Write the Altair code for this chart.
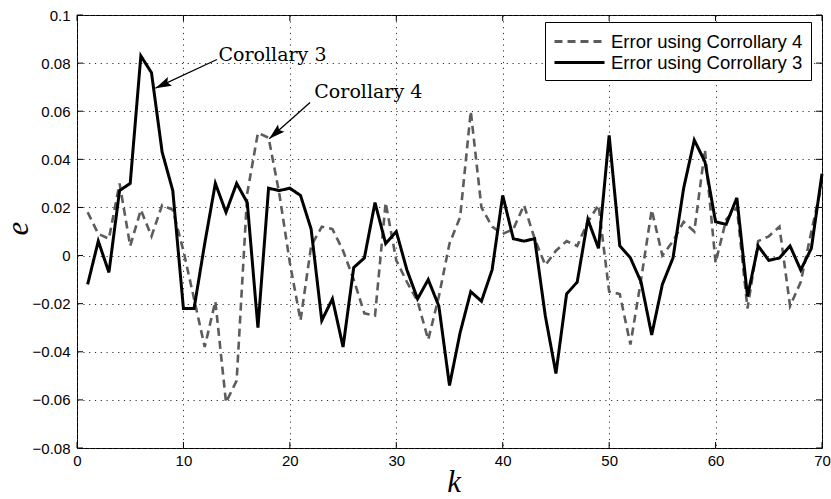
import math
import altair as alt
import pandas as pd

# ---- data -------------------------------------------------------------
k = list(range(1, 71))

err_cor4 = [0.018, 0.009, 0.007, 0.030, 0.004, 0.019, 0.008, 0.021, 0.019, 0.002,
            -0.018, -0.038, -0.019, -0.061, -0.052, 0.026, 0.051, 0.049, 0.026, -0.003,
            -0.027, 0.004, 0.012, 0.011, 0.002, -0.010, -0.024, -0.025, 0.022, -0.002,
            -0.011, -0.019, -0.035, -0.017, 0.005, 0.016, 0.060, 0.020, 0.012, 0.009,
            0.011, 0.021, 0.007, -0.004, 0.002, 0.006, 0.004, 0.014, 0.021, -0.015,
            -0.016, -0.037, -0.010, 0.019, 0.000, 0.006, 0.014, 0.010, 0.044, -0.003,
            0.015, 0.020, -0.022, 0.006, 0.008, 0.012, -0.021, -0.011, 0.010, 0.030]

err_cor3 = [-0.012, 0.006, -0.007, 0.027, 0.030, 0.083, 0.076, 0.043, 0.027, -0.022,
            -0.022, 0.005, 0.030, 0.018, 0.030, 0.022, -0.030, 0.028, 0.027, 0.028,
            0.025, 0.011, -0.027, -0.018, -0.038, -0.005, -0.001, 0.022, 0.005, 0.010,
            -0.006, -0.018, -0.010, -0.021, -0.054, -0.032, -0.015, -0.019, -0.006, 0.025,
            0.007, 0.006, 0.007, -0.025, -0.049, -0.016, -0.011, 0.015, 0.003, 0.050,
            0.004, -0.001, -0.011, -0.033, -0.012, -0.001, 0.028, 0.048, 0.039, 0.014,
            0.013, 0.024, -0.017, 0.004, -0.002, -0.001, 0.004, -0.006, 0.003, 0.034]

series_names = ["Error using Corrollary 4", "Error using Corrollary 3"]

x_ticks = [0, 10, 20, 30, 40, 50, 60, 70]
y_ticks = [-0.08, -0.06, -0.04, -0.02, 0, 0.02, 0.04, 0.06, 0.08, 0.1]

anno_labels = ["Corollary 3", "Corollary 4"]
anno_k = [13.3, 22.3]
anno_e = [0.081, 0.0655]

# arrow start (near the label) and tip (on the curve)
arrow_k0 = [13.15, 21.9]
arrow_e0 = [0.0815, 0.0636]
arrow_k1 = [7.37, 18.06]
arrow_e1 = [0.0696, 0.0486]

# ---- layout -----------------------------------------------------------
W, H = 745, 433
X_DOM = [0, 70]
Y_DOM = [-0.08, 0.1]

df = pd.DataFrame({
    "k": k + k,
    "e": err_cor4 + err_cor3,
    "series": [series_names[0]] * len(k) + [series_names[1]] * len(k),
})

px_per_k = W / (X_DOM[1] - X_DOM[0])
px_per_e = H / (Y_DOM[1] - Y_DOM[0])
angles = []
for a0, b0, a1, b1 in zip(arrow_k0, arrow_e0, arrow_k1, arrow_e1):
    dx = (a1 - a0) * px_per_k
    dy = -(b1 - b0) * px_per_e
    angles.append(math.degrees(math.atan2(dx, -dy)) % 360)

arrows = pd.DataFrame({"k": arrow_k0, "e": arrow_e0, "k2": arrow_k1,
                       "e2": arrow_e1, "angle": angles})
anno = pd.DataFrame({"label": anno_labels, "k": anno_k, "e": anno_e})
xt = pd.DataFrame({"k": x_ticks})
yt = pd.DataFrame({"e": y_ticks})

xs = alt.Scale(domain=X_DOM, nice=False, zero=False)
ys = alt.Scale(domain=Y_DOM, nice=False, zero=False)

grid_common = dict(grid=True, gridDash=[1.2, 4.6], gridColor="#333333", gridWidth=1,
                   ticks=False, tickSize=0, domain=False,
                   labelFont="Liberation Sans", labelFontSize=15, labelColor="black",
                   labelOverlap=False, labelFlush=False,
                   titleFont="Liberation Serif", titleFontStyle="italic",
                   titleFontWeight="normal", titleFontSize=31, titleColor="black")

x_axis = alt.Axis(values=x_ticks, title="k", labelPadding=5,
                  titleX=W / 2 + 4, titleY=43, titleAlign="center",
                  titleBaseline="alphabetic", **grid_common)
y_axis = alt.Axis(values=y_ticks, format=".2~f", title="e", labelPadding=7,
                  titleAngle=270, titleX=-50, titleY=213, titleAlign="center",
                  titleBaseline="alphabetic", **grid_common)

X = alt.X("k:Q", scale=xs, axis=x_axis)
Y = alt.Y("e:Q", scale=ys, axis=y_axis)

# legend sample lines are a long horizontal path drawn from a small symbol box,
# so rows stay compact while the line samples stay long
legend = alt.Legend(title=None, orient="none", legendX=468, legendY=7,
                    direction="vertical", fillColor="white", strokeColor="black",
                    padding=8, cornerRadius=0,
                    labelFont="Liberation Sans", labelFontSize=18.5, labelColor="black",
                    labelLimit=0, labelOffset=35, rowPadding=0,
                    symbolType="M-1,0 L4,0", symbolSize=400, symbolStrokeWidth=2.8,
                    symbolFillColor="transparent")

color = alt.Color("series:N", sort=series_names,
                  scale=alt.Scale(domain=series_names, range=["#5c5c5c", "#000000"]),
                  legend=legend)
dash = alt.StrokeDash("series:N", sort=series_names,
                      scale=alt.Scale(domain=series_names, range=[[8, 5], [1, 0]]),
                      legend=legend)

base = alt.Chart(df).encode(x=X, y=Y, color=color, strokeDash=dash)
dashed = base.transform_filter(alt.datum.series == series_names[0]).mark_line(strokeWidth=2.6)
solid = base.transform_filter(alt.datum.series == series_names[1]).mark_line(strokeWidth=3)

# inward tick marks on all four sides of the box
tick_len = 6
xt_bottom = alt.Chart(xt).mark_rule(color="black", strokeWidth=1).encode(
    x=X, y=alt.value(H), y2=alt.value(H - tick_len))
xt_top = alt.Chart(xt).mark_rule(color="black", strokeWidth=1).encode(
    x=X, y=alt.value(0), y2=alt.value(tick_len))
yt_left = alt.Chart(yt).mark_rule(color="black", strokeWidth=1).encode(
    y=Y, x=alt.value(0), x2=alt.value(tick_len))
yt_right = alt.Chart(yt).mark_rule(color="black", strokeWidth=1).encode(
    y=Y, x=alt.value(W), x2=alt.value(W - tick_len))

arrow_lines = alt.Chart(arrows).mark_rule(color="black", strokeWidth=1.3).encode(
    x=X, y=Y, x2="k2:Q", y2="e2:Q")
arrow_heads = alt.Chart(arrows).mark_point(
    shape="M0,0 L0.3,1 L0,0.82 L-0.3,1 Z", filled=True, size=1024,
    color="black", opacity=1, strokeWidth=0).encode(
    x=alt.X("k2:Q", scale=xs, axis=x_axis), y=alt.Y("e2:Q", scale=ys, axis=y_axis),
    angle=alt.Angle("angle:Q", scale=None))

labels = alt.Chart(anno).mark_text(
    align="left", baseline="alphabetic", font="DejaVu Serif", fontSize=19,
    color="black").encode(x=X, y=Y, text="label:N")

chart = alt.layer(
    dashed, solid, xt_bottom, xt_top, yt_left, yt_right,
    arrow_lines, arrow_heads, labels
).properties(
    width=W, height=H,
    padding={"left": 77, "top": 15, "right": 9, "bottom": 51},
    autosize=alt.AutoSizeParams(type="none"),
    background="white",
).configure_view(stroke="black", strokeWidth=1)

chart.save("out.html", embed_options={"renderer": "svg", "actions": False})
